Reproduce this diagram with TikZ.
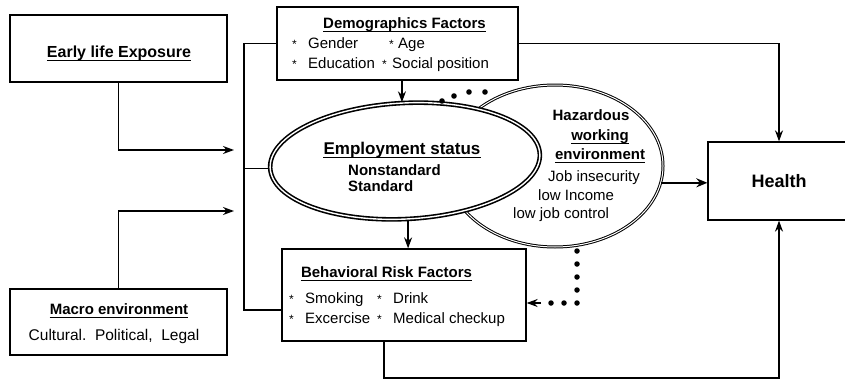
\documentclass[tikz,border=0pt]{standalone}
\usepackage{fontspec}
\setmainfont{Liberation Sans}
\usetikzlibrary{arrows.meta,shapes.geometric,calc}
\begin{document}
\begin{tikzpicture}[x=1pt,y=-1pt,
  box/.style={draw,line width=1.3pt,rectangle,inner sep=0pt},
  txt/.style={inner sep=0pt,text height=10pt,text depth=0pt},
  ttl/.style={txt,font=\bfseries\fontsize{15}{15}\selectfont},
  bdy/.style={txt,font=\fontsize{15}{15}\selectfont},
  bul/.style={txt,font=\fontsize{12}{12}\selectfont},
  conn/.style={line width=1.3pt},
  thinconn/.style={line width=0.8pt},
  ulst/.style={line width=1.1pt},
  arr/.style={conn,-{Stealth[length=11pt,width=8pt]}},
  bigarr/.style={line width=2.6pt,-{Stealth[length=11pt,width=9pt]}},
  dotline/.style={line width=5.5pt,line cap=round,dash pattern=on 0pt off 13pt},
  oval/.style={ellipse,draw,fill=white,inner sep=0pt,double=white}
]
\useasboundingbox (0,0) rectangle (845,380);
\clip (0,0) rectangle (845,380);

% boxes
\node[box,minimum width=217pt,minimum height=67pt] (early) at (118.5,48.5) {};
\node[box,minimum width=217pt,minimum height=66pt] (macro) at (118.5,322) {};
\node[box,minimum width=241pt,minimum height=73pt] (demo) at (397.5,43.5) {};
\node[box,minimum width=244pt,minimum height=92pt] (behav) at (404,295) {};
\node[box,minimum width=142pt,minimum height=78pt,font=\bfseries\fontsize{18}{18}\selectfont] (health) at (779,181) {Health};

% ellipses
\node[oval,line width=1pt,double distance=1pt,minimum width=216pt,minimum height=162pt] (haz) at (555,166) {};
\node[oval,line width=1.6pt,double distance=1.4pt,minimum width=270pt,minimum height=116pt,rotate=3] (emp) at (405,161) {};

% texts
\node[ttl,font=\bfseries\fontsize{16}{16}\selectfont] (earlyT) at (119,52) {Early life Exposure};

\node[ttl] (demoT) at (404.5,23) {Demographics Factors};
\node[bul,anchor=west] (d1) at (292,43) {*};
\node[bdy,anchor=west] (d2) at (308,43) {Gender};
\node[bul,anchor=west] (d3) at (389,43) {*};
\node[bdy,anchor=west] (d4) at (398,43) {Age};
\node[bul,anchor=west] (d5) at (292,63) {*};
\node[bdy,anchor=west] (d6) at (308,63) {Education};
\node[bul,anchor=west] (d7) at (382,63) {*};
\node[bdy,anchor=west] (d8) at (392,63) {Social position};

\node[ttl,font=\bfseries\fontsize{17}{17}\selectfont] (empT) at (402,149) {Employment status};
\node[ttl,anchor=west] (e1) at (348,170) {Nonstandard};
\node[ttl,anchor=west] (e2) at (348,186) {Standard};

\node[ttl] (h1) at (591,115) {Hazardous};
\node[ttl] (h2) at (600,135) {working};
\node[ttl] (h3) at (600,154) {environment};
\node[bdy,anchor=west] (h4) at (548,176) {Job insecurity};
\node[bdy,anchor=west] (h5) at (538,195) {low Income};
\node[bdy,anchor=west] (h6) at (513,213) {low job control};

\node[ttl] (behavT) at (386.5,272) {Behavioral Risk Factors};
\node[bul,anchor=west] (b1) at (289,298) {*};
\node[bdy,anchor=west] (b2) at (305,298) {Smoking};
\node[bul,anchor=west] (b3) at (377,298) {*};
\node[bdy,anchor=west] (b4) at (393,298) {Drink};
\node[bul,anchor=west] (b5) at (289,318) {*};
\node[bdy,anchor=west] (b6) at (305,318) {Excercise};
\node[bul,anchor=west] (b7) at (377,318) {*};
\node[bdy,anchor=west] (b8) at (393,318) {Medical checkup};

\node[ttl] (macroT) at (119,309) {Macro environment};
\node[bdy,font=\fontsize{15.5}{15.5}\selectfont] (macroB) at (114,335) {Cultural.\ \ Political,\ \ Legal};

% underlines
\foreach \n in {earlyT,demoT,empT,h2,h3,behavT,macroT}
  \draw[ulst] ([yshift=-3.5pt]\n.south west) -- ([yshift=-3.5pt]\n.south east);

% helper coordinates
\coordinate (brBot) at (244,310);
\coordinate (inEarly) at (244,150);
\coordinate (inMacro) at (244,211);
\coordinate (low) at (384,378);
\coordinate (hzb) at (577,251);
\coordinate (dotc) at (577,303);
\coordinate (dotend) at (545,303);
\coordinate (tipstart) at (541,303);

% connectors
\draw[arr,shorten >=10pt] (early.south) |- (inEarly);
\draw[arr,shorten >=10pt] (macro.north) |- (inMacro);
\draw[conn] (demo.west) -| (brBot) -- (brBot -| behav.west);
\draw[thinconn] (emp.west -| brBot) -- (emp.west);
\draw[arr] (demo.south -| emp.north) -- (emp.north);
\draw[arr] (emp.south) -- (emp.south |- behav.north);
\draw[arr] (demo.east) -| (health.north);
\draw[arr] (behav.south -| low) -- (low) -| (health.south);
\draw[bigarr] (haz.-9) -- (haz.-9 -| health.west);

% dotted links
\draw[dotline] (hzb) -- (dotc) -- (dotend);
\draw[arr] (tipstart) -- (tipstart -| behav.east);
\foreach \p in {(442,101),(454,96),(469,92),(485,92)} \fill \p circle (2.8pt);
\end{tikzpicture}
\end{document}
